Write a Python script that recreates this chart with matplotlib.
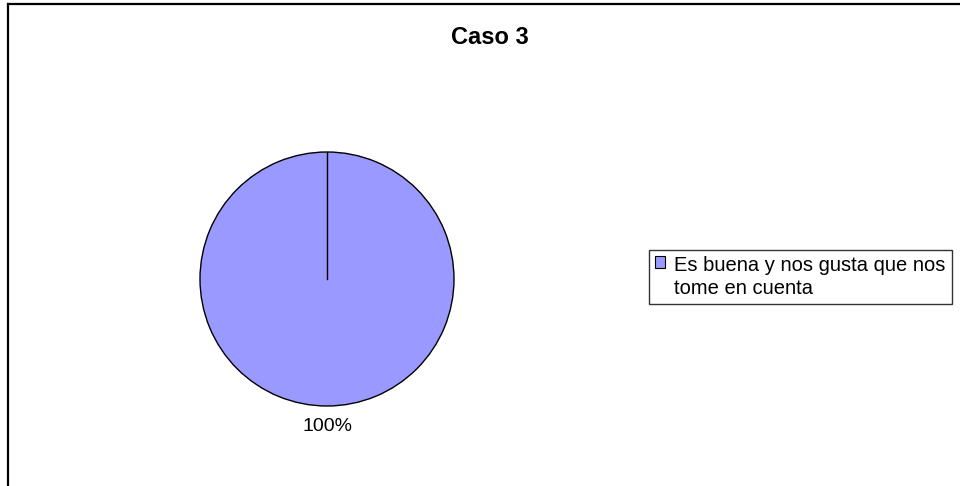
import matplotlib

matplotlib.use("Agg")
import matplotlib.pyplot as plt
from matplotlib.legend_handler import HandlerPatch
from matplotlib.lines import Line2D
from matplotlib.patches import Rectangle

plt.rcParams["font.family"] = ["Liberation Sans", "DejaVu Sans"]

TITLE = "Caso 3"
CATEGORIES = ["Es buena y nos gusta que nos\ntome en cuenta"]
VALUES = [100]
COLORS = ["#9999FF"]
START_ANGLE = 90

LEGEND_FONTSIZE = 14.5
LEGEND_LINESPACING = 1.25


def first_line_square(legend, orig_handle, xdescent, ydescent, width, height, fontsize):
    # keep the swatch level with the first line of a wrapped label
    shift = 0.5 * LEGEND_LINESPACING * fontsize * 1.2
    return Rectangle((-xdescent, -ydescent + shift), width, height)


def main() -> None:
    fig = plt.figure(figsize=(9.6, 4.86), dpi=100)

    # outer chart frame (left and top edges only are inside the canvas)
    fig.add_artist(Line2D([8 / 960, 8 / 960], [0, 1 - 4 / 486], color="black", linewidth=1.6))
    fig.add_artist(Line2D([8 / 960, 1], [1 - 4 / 486, 1 - 4 / 486], color="black", linewidth=1.6))

    fig.text(490 / 960, 1 - 38 / 486, TITLE, ha="center", va="center", fontsize=17, fontweight="bold")

    ax = fig.add_axes([200 / 960, 80 / 486, 254 / 960, 254 / 486])
    wedges, texts, autotexts = ax.pie(
        VALUES,
        colors=COLORS,
        startangle=START_ANGLE,
        counterclock=True,
        autopct="%1.0f%%",
        pctdistance=1.16,
        wedgeprops={"edgecolor": "black", "linewidth": 1.0},
        textprops={"fontsize": 14},
    )
    # a single full slice has no radial edge of its own, draw it at the start angle
    if len(VALUES) == 1:
        ax.plot([0, 0], [0, 1], color="black", linewidth=1.0)
    ax.set_xlim(-1.0, 1.0)
    ax.set_ylim(-1.0, 1.0)
    ax.set_aspect("equal")
    ax.axis("off")

    handles = [
        Rectangle((0, 0), 1, 1, facecolor=color, edgecolor="black", linewidth=0.8)
        for color in COLORS
    ]
    legend = fig.legend(
        handles,
        CATEGORIES,
        loc="upper left",
        bbox_to_anchor=(649 / 960, 1 - 250 / 486),
        frameon=True,
        fancybox=False,
        edgecolor="black",
        fontsize=LEGEND_FONTSIZE,
        handlelength=0.5,
        handleheight=0.5,
        handletextpad=0.45,
        borderpad=0.3,
        borderaxespad=0.0,
        handler_map={Rectangle: HandlerPatch(patch_func=first_line_square)},
    )
    legend.get_frame().set_linewidth(1.0)
    for text in legend.get_texts():
        text.set_linespacing(LEGEND_LINESPACING)

    fig.savefig("out.png", dpi=100)
    plt.close(fig)


if __name__ == "__main__":
    main()
